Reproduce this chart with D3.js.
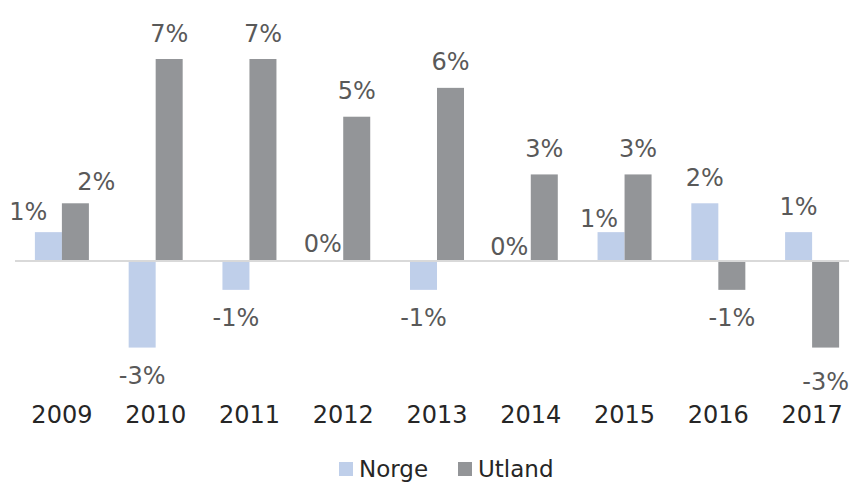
<!DOCTYPE html>
<html>
<head>
<meta charset="utf-8">
<script src="https://cdn.jsdelivr.net/npm/d3@7"></script>
<style>
  html, body { margin: 0; padding: 0; background: #fff; overflow: hidden; }
  svg { display: block; font-family: "DejaVu Sans", sans-serif; }
</style>
</head>
<body>
<svg id="chart" width="849" height="482"></svg>
<script>
// ---- data ----
const categories = ["2009", "2010", "2011", "2012", "2013", "2014", "2015", "2016", "2017"];
const seriesNames = ["Norge", "Utland"];
const norge  = [1, -3, -1, 0, -1, 0, 1, 2, 1];
const utland = [2, 7, 7, 5, 6, 3, 3, -1, -3];
const seriesValues = [norge, utland];

// ---- styling / layout ----
const colors = { Norge: "#bfcfea", Utland: "#939598" };
// manual label nudges seen in the reference (dx, dy), keyed by "year|series"
const labelNudge = {
  "2009|Norge": [-20, 5.5],
  "2009|Utland": [21, 4],
  "2012|Norge": [-7, 8],
  "2014|Norge": [-8, 11.5],
  "2015|Norge": [-12, 12],
  "2017|Utland": [0, 6]
};

const svg = d3.select("#chart");

const x = d3.scaleBand()
  .domain(categories)
  .range([15, 859])
  .paddingInner(0.424)
  .paddingOuter(0.212);

const xs = d3.scaleBand()
  .domain(seriesNames)
  .range([0, x.bandwidth()])
  .padding(0);

const y = d3.scaleLinear().domain([0, 7]).range([261, 59]);

const rows = [];
categories.forEach((c, i) => {
  seriesNames.forEach((s, j) => rows.push({ cat: c, series: s, value: seriesValues[j][i] }));
});

// bars
svg.append("g").selectAll("rect")
  .data(rows)
  .join("rect")
  .attr("x", d => x(d.cat) + xs(d.series))
  .attr("width", xs.bandwidth())
  .attr("y", d => Math.min(y(d.value), y(0)))
  .attr("height", d => Math.abs(y(d.value) - y(0)))
  .attr("fill", d => colors[d.series]);

// zero line
svg.append("line")
  .attr("x1", 15).attr("x2", 849)
  .attr("y1", y(0)).attr("y2", y(0))
  .attr("stroke", "#d9d9d9").attr("stroke-width", 2);

const pct = v => String(Math.round(v)) + "%";   // plain hyphen-minus like the reference

// value labels
svg.append("g").selectAll("text")
  .data(rows)
  .join("text")
  .attr("x", d => x(d.cat) + xs(d.series) + xs.bandwidth() / 2 + ((labelNudge[d.cat + "|" + d.series] || [0, 0])[0]))
  .attr("y", d => (d.value >= 0 ? y(d.value) - 17.5 : y(d.value) + 36) + ((labelNudge[d.cat + "|" + d.series] || [0, 0])[1]))
  .attr("text-anchor", "middle")
  .attr("font-size", 24)
  .attr("fill", "#595959")
  .text(d => pct(d.value));

// x axis labels
const xAxis = d3.axisBottom(x).tickSize(0).tickPadding(0);
const gx = svg.append("g").attr("transform", "translate(0,405)").call(xAxis);
gx.select(".domain").remove();
gx.selectAll("text")
  .attr("font-size", 24)
  .attr("font-family", "DejaVu Sans, sans-serif")
  .attr("fill", "#262626")
  .attr("dy", "0.75em");

// legend
const legendPos = { Norge: 339, Utland: 458 };
const lg = svg.append("g");
seriesNames.forEach(s => {
  lg.append("rect")
    .attr("x", legendPos[s]).attr("y", 462)
    .attr("width", 14).attr("height", 14)
    .attr("fill", colors[s]);
  lg.append("text")
    .attr("x", legendPos[s] + 20).attr("y", 477)
    .attr("font-size", 23)
    .attr("fill", "#262626")
    .text(s);
});
</script>
</body>
</html>
